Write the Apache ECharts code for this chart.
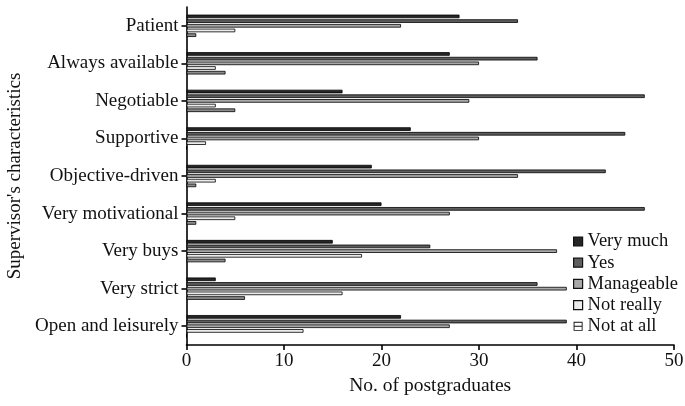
<!DOCTYPE html>
<html>
<head>
<meta charset="utf-8">
<script src="https://cdn.jsdelivr.net/npm/echarts@6/dist/echarts.min.js"></script>
<style>
  html, body { margin: 0; padding: 0; background: #fff; }
  #chart { width: 685px; height: 406px; }
</style>
</head>
<body>
<div id="chart"></div>
<script>
// Supervisor characteristics, listed top to bottom
const categories = [
  'Patient', 'Always available', 'Negotiable', 'Supportive', 'Objective-driven',
  'Very motivational', 'Very buys', 'Very strict', 'Open and leisurely'
];

// Response levels (one series each)
const levels = ['Very much', 'Yes', 'Manageable', 'Not really', 'Not at all'];

// Counts of postgraduates per characteristic, one array per response level
const veryMuch   = [28, 27, 16, 23, 19, 20, 15, 3, 22];
const yes        = [34, 36, 47, 45, 43, 47, 25, 36, 39];
const manageable = [22, 30, 29, 30, 34, 27, 38, 39, 27];
const notReally  = [5, 3, 3, 2, 3, 5, 18, 16, 12];
const notAtAll   = [1, 4, 5, 0, 1, 1, 4, 6, 0];

const xTicks = { min: 0, max: 50, step: 10 };

const seriesValues = [veryMuch, yes, manageable, notReally, notAtAll];
const fills = ['#262626', '#5e5e5e', '#a8a8a8', '#ececec', '#8c8c8c'];

const FONT = '"Liberation Serif", "Times New Roman", serif';

const chart = echarts.init(document.getElementById('chart'), null, { renderer: 'canvas' });

const series = levels.map((name, i) => ({
  name,
  type: 'bar',
  data: seriesValues[i],
  barWidth: 3.6,
  barGap: '30%',
  itemStyle: { color: fills[i], borderColor: '#000', borderWidth: 0.8 },
  animation: false
}));

// legend icon for "Not at all": outlined box split by a horizontal rule
const splitBoxIcon = 'path://M0,0H10V10H0Z M1,1V4.4H9V1Z M1,5.6V9H9V5.6Z';

chart.setOption({
  animation: false,
  backgroundColor: '#fff',
  grid: { left: 186.5, right: 11, top: 7, bottom: 61, containLabel: false, outerBoundsMode: 'none' },
  legend: {
    orient: 'vertical',
    left: 568,
    top: 227,
    itemWidth: 9,
    itemHeight: 9,
    itemGap: 2.2,
    textStyle: { fontFamily: FONT, fontSize: 18.5, color: '#111' },
    data: levels.map((name, i) => i === 4
      ? { name, icon: splitBoxIcon, itemStyle: { color: '#111', borderWidth: 0 } }
      : { name, icon: 'rect', itemStyle: { borderColor: '#111', borderWidth: 1.2 } })
  },
  xAxis: {
    type: 'value',
    min: xTicks.min,
    max: xTicks.max,
    interval: xTicks.step,
    name: 'No. of postgraduates',
    nameLocation: 'middle',
    nameGap: 31,
    nameTextStyle: { fontFamily: FONT, fontSize: 19.5, color: '#111' },
    axisLine: { show: true, lineStyle: { color: '#000', width: 1.6 } },
    axisTick: { show: true, length: 5, lineStyle: { color: '#000', width: 1.6 } },
    axisLabel: { fontFamily: FONT, fontSize: 19, color: '#111', margin: 7 },
    splitLine: { show: false }
  },
  yAxis: {
    type: 'category',
    inverse: true,
    data: categories,
    name: "Supervisor's characteristics",
    nameLocation: 'middle',
    nameRotate: 90,
    nameGap: 160,
    nameTextStyle: { fontFamily: FONT, fontSize: 19, color: '#111' },
    axisLine: { show: true, onZero: false, lineStyle: { color: '#000', width: 1.6 } },
    axisTick: { show: true, alignWithLabel: true, length: 5, lineStyle: { color: '#000', width: 1.6 } },
    axisLabel: { fontFamily: FONT, fontSize: 19, color: '#111', margin: 8 },
    splitLine: { show: false }
  },
  series
});
</script>
</body>
</html>
